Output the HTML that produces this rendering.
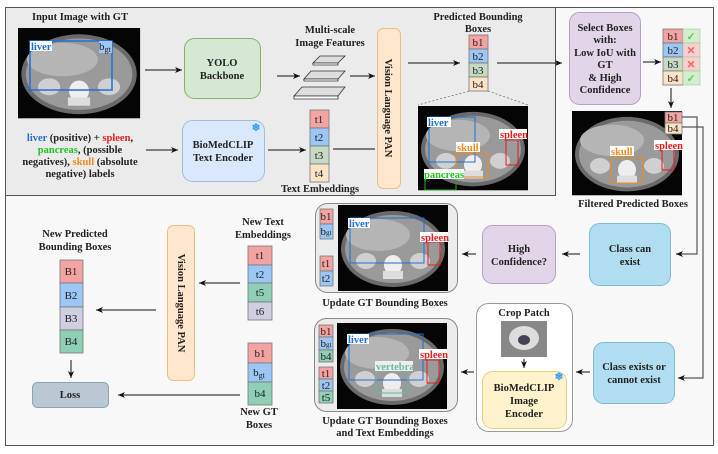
<!DOCTYPE html>
<html><head><meta charset="utf-8"><style>
html,body{margin:0;padding:0;background:#fff}
svg{display:block}
text{font-family:"Liberation Serif",serif;font-weight:bold;font-size:10.5px;fill:#222}
.n{font-weight:normal;font-size:11px}
</style></head><body>
<svg width="718" height="454" viewBox="0 0 718 454" xmlns="http://www.w3.org/2000/svg">
<defs>
<marker id="a" markerWidth="8" markerHeight="8" refX="7" refY="4" orient="auto" markerUnits="userSpaceOnUse"><path d="M0,1 L7,4 L0,7 L2,4z" fill="#111"/></marker>
<g id="ct">
<rect x="0" y="0" width="110" height="86" fill="#050505"/>
<ellipse cx="55" cy="44" rx="52" ry="38" fill="#6a6a6a"/>
<ellipse cx="55" cy="44" rx="48" ry="34" fill="#9a9a9a"/>
<ellipse cx="40" cy="30" rx="32" ry="16" fill="#b5b5b5"/>
<ellipse cx="28" cy="56" rx="10" ry="8" fill="#d0d0d0"/>
<ellipse cx="82" cy="56" rx="10" ry="8" fill="#d0d0d0"/>
<ellipse cx="55" cy="60" rx="9" ry="10" fill="#eee"/>
<rect x="45" y="66" width="20" height="8" fill="#ddd"/>
</g>
</defs>
<rect x="5.5" y="7.5" width="708" height="438" fill="#f8f8f8" stroke="#555" stroke-width="1"/>
<rect x="5.5" y="7.5" width="550" height="188" fill="#ebebeb" stroke="#555" stroke-width="1"/>

<text x="80" y="20" text-anchor="middle">Input Image with GT</text>
<use href="#ct" x="18" y="28" transform="translate(18,28) scale(1.11,1.05) translate(-18,-28)"/>
<rect x="30" y="41" width="82" height="49" fill="none" stroke="#1f6fd6" stroke-width="1.5"/>
<rect x="30" y="41" width="22" height="10" fill="#fff"/><text x="31" y="50" style="fill:#1f6fd6">liver</text>
<rect x="99" y="41" width="13" height="12" fill="#9cc6f5"/><text x="99" y="50" class="n">b<tspan font-size="8" dy="2">gt</tspan></text>
<line x1="145" y1="70" x2="182" y2="70" stroke="#111" marker-end="url(#a)"/>
<rect x="184.5" y="38.5" width="76" height="60" rx="10" fill="#d5e8d4" stroke="#82b366"/>
<text x="222" y="66" text-anchor="middle">YOLO</text><text x="222" y="79" text-anchor="middle">Backbone</text>
<line x1="277" y1="76" x2="300" y2="76" stroke="#111" marker-end="url(#a)"/>
<text x="330" y="33" text-anchor="middle">Multi-scale</text><text x="330" y="46" text-anchor="middle">Image Features</text>
<g fill="#ddd" stroke="#333" stroke-width="0.8">
<path d="M320,56 L345,56 L338,63 L313,63z"/><path d="M313,63 L338,63 L338,65 L313,65z" fill="#fff"/>
<path d="M311,71 L345,71 L338,79 L304,79z"/><path d="M304,79 L338,79 L338,81 L304,81z" fill="#fff"/>
<path d="M302,87 L345,87 L338,96 L294,96z"/><path d="M294,96 L338,96 L338,99 L294,99z" fill="#fff"/>
</g>
<line x1="350" y1="76" x2="375" y2="76" stroke="#111" marker-end="url(#a)"/>
<rect x="377.5" y="28.5" width="23" height="160" rx="6" fill="#ffe6cc" stroke="#e8c080"/>
<text transform="translate(385,108) rotate(90)" text-anchor="middle" font-size="12">Vision Language PAN</text>

<text x="80" y="141" text-anchor="middle"><tspan style="fill:#1f6fd6">liver</tspan> (positive) + <tspan style="fill:#e81c1c">spleen</tspan>,</text>
<text x="80" y="153" text-anchor="middle"><tspan style="fill:#22c422">pancreas</tspan>, (possible</text>
<text x="80" y="165" text-anchor="middle">negatives), <tspan style="fill:#f08a1c">skull</tspan> (absolute</text>
<text x="80" y="177" text-anchor="middle">negative) labels</text>
<line x1="146" y1="150" x2="178" y2="150" stroke="#111" marker-end="url(#a)"/>
<rect x="182.5" y="120.5" width="82" height="61" rx="10" fill="#dae8fc" stroke="#9fbde0"/>
<text x="223" y="148" text-anchor="middle">BioMedCLIP</text><text x="223" y="161" text-anchor="middle">Text Encoder</text>
<text x="256" y="131" text-anchor="middle" style="fill:#2a9df4" font-size="10">❄</text>
<line x1="268" y1="150" x2="306" y2="150" stroke="#111" marker-end="url(#a)"/>
<g stroke="#777" stroke-width="0.8">
<rect x="310" y="110" width="19" height="18" fill="#f4a3a3"/><rect x="310" y="128" width="19" height="18" fill="#9cc6f5"/>
<rect x="310" y="146" width="19" height="18" fill="#c7d8c4"/><rect x="310" y="164" width="19" height="18" fill="#fde3c6"/></g>
<text x="319" y="123" text-anchor="middle" class="n">t1</text><text x="319" y="141" text-anchor="middle" class="n">t2</text>
<text x="319" y="159" text-anchor="middle" class="n">t3</text><text x="319" y="177" text-anchor="middle" class="n">t4</text>
<text x="320" y="192" text-anchor="middle">Text Embeddings</text>
<line x1="333" y1="149" x2="375" y2="149" stroke="#555" stroke-width="1.5"/>

<line x1="408" y1="63" x2="460" y2="63" stroke="#111" marker-end="url(#a)"/>
<text x="478" y="20" text-anchor="middle">Predicted Bounding</text><text x="478" y="32" text-anchor="middle">Boxes</text>
<g stroke="#777" stroke-width="0.8">
<rect x="469" y="35" width="19" height="14" fill="#f4a3a3"/><rect x="469" y="49" width="19" height="14" fill="#9cc6f5"/>
<rect x="469" y="63" width="19" height="14" fill="#c7d8c4"/><rect x="469" y="77" width="19" height="14" fill="#fde3c6"/></g>
<text x="478" y="46" text-anchor="middle" class="n">b1</text><text x="478" y="60" text-anchor="middle" class="n">b2</text>
<text x="478" y="74" text-anchor="middle" class="n">b3</text><text x="478" y="88" text-anchor="middle" class="n">b4</text>
<line x1="469" y1="91" x2="418" y2="105" stroke="#666" stroke-dasharray="2,2" stroke-width="0.7"/>
<line x1="488" y1="91" x2="528" y2="105" stroke="#666" stroke-dasharray="2,2" stroke-width="0.7"/>
<use href="#ct" transform="translate(418,106) scale(1.0,0.98)"/>
<rect x="429" y="117" width="46" height="45" fill="none" stroke="#1f6fd6"/><rect x="427" y="117" width="24" height="10" fill="#fff"/><text x="428" y="126" style="fill:#1f6fd6">liver</text>
<rect x="456" y="153" width="32" height="24" fill="none" stroke="#f08a1c"/><rect x="456" y="142" width="24" height="10" fill="#fff"/><text x="457" y="151" style="fill:#f08a1c">skull</text>
<rect x="506" y="140" width="12" height="25" fill="none" stroke="#e81c1c"/><rect x="499" y="129" width="28" height="10" fill="#fff"/><text x="500" y="138" style="fill:#e81c1c">spleen</text>
<rect x="425" y="178" width="31" height="12" fill="none" stroke="#22aa22"/><rect x="424" y="169" width="40" height="10" fill="#fff"/><text x="424" y="178" style="fill:#22c422">pancreas</text>

<line x1="497" y1="63" x2="562" y2="63" stroke="#111" marker-end="url(#a)"/>
<rect x="569.5" y="12.5" width="71" height="92" rx="10" fill="#e1d5e7" stroke="#b79fc8"/>
<text x="605" y="31" text-anchor="middle">Select Boxes</text><text x="605" y="43" text-anchor="middle">with:</text>
<text x="605" y="56" text-anchor="middle">Low IoU with</text><text x="605" y="68" text-anchor="middle">GT</text>
<text x="605" y="81" text-anchor="middle">&amp; High</text><text x="605" y="93" text-anchor="middle">Confidence</text>
<line x1="643" y1="62" x2="661" y2="62" stroke="#111" marker-end="url(#a)"/>
<g stroke="#777" stroke-width="0.8">
<rect x="663" y="29" width="20" height="14" fill="#f4a3a3"/><rect x="663" y="43" width="20" height="14" fill="#9cc6f5"/>
<rect x="663" y="57" width="20" height="14" fill="#c7d8c4"/><rect x="663" y="71" width="20" height="14" fill="#fde3c6"/></g>
<g stroke="#9c9" stroke-width="0.6"><rect x="683" y="29" width="17" height="14" fill="#d5ecd0"/><rect x="683" y="43" width="17" height="14" fill="#f8d0d0"/><rect x="683" y="57" width="17" height="14" fill="#f8d0d0"/><rect x="683" y="71" width="17" height="14" fill="#d5ecd0"/></g>
<text x="673" y="40" text-anchor="middle" class="n">b1</text><text x="673" y="54" text-anchor="middle" class="n">b2</text>
<text x="673" y="68" text-anchor="middle" class="n">b3</text><text x="673" y="82" text-anchor="middle" class="n">b4</text>
<text x="691" y="40" text-anchor="middle" style="fill:#5c5" font-size="10">✓</text><text x="691" y="54" text-anchor="middle" style="fill:#e66" font-size="9">✕</text>
<text x="691" y="68" text-anchor="middle" style="fill:#e66" font-size="9">✕</text><text x="691" y="82" text-anchor="middle" style="fill:#5c5" font-size="10">✓</text>
<line x1="671" y1="88" x2="671" y2="108" stroke="#111" marker-end="url(#a)"/>
<use href="#ct" transform="translate(572,111) scale(1.0,0.98)"/>
<rect x="611" y="158" width="32" height="25" fill="none" stroke="#f08a1c"/><rect x="610" y="146" width="24" height="10" fill="#fff"/><text x="611" y="155" style="fill:#f08a1c">skull</text>
<rect x="662" y="145" width="12" height="25" fill="none" stroke="#e81c1c"/><rect x="654" y="140" width="28" height="10" fill="#fff"/><text x="655" y="149" style="fill:#e81c1c">spleen</text>
<g stroke="#777" stroke-width="0.8"><rect x="665" y="112" width="17" height="11" fill="#f4a3a3"/><rect x="665" y="123" width="17" height="11" fill="#fde3c6"/></g>
<text x="673" y="121" text-anchor="middle" class="n">b1</text><text x="673" y="132" text-anchor="middle" class="n">b4</text>
<text x="633" y="207" text-anchor="middle" font-size="10">Filtered Predicted Boxes</text>
<polyline points="682,117 697,117 697,254 676,254" fill="none" stroke="#555" stroke-width="1.2" marker-end="url(#a)"/>
<polyline points="682,127 703,127 703,378 678,378" fill="none" stroke="#555" stroke-width="1.2" marker-end="url(#a)"/>

<rect x="589.5" y="223.5" width="81" height="62" rx="10" fill="#b1ddf0" stroke="#7fb9d6"/>
<text x="630" y="252" text-anchor="middle">Class can</text><text x="630" y="265" text-anchor="middle">exist</text>
<rect x="593.5" y="342.5" width="81" height="61" rx="10" fill="#b1ddf0" stroke="#7fb9d6"/>
<text x="634" y="370" text-anchor="middle">Class exists or</text><text x="634" y="383" text-anchor="middle">cannot exist</text>
<line x1="580" y1="254" x2="562" y2="254" stroke="#111" marker-end="url(#a)"/>
<rect x="482.5" y="225.5" width="73" height="58" rx="10" fill="#e1d5e7" stroke="#b79fc8"/>
<text x="519" y="252" text-anchor="middle">High</text><text x="519" y="265" text-anchor="middle">Confidence?</text>
<line x1="476" y1="254" x2="462" y2="254" stroke="#111" marker-end="url(#a)"/>
<line x1="590" y1="372" x2="576" y2="372" stroke="#111" marker-end="url(#a)"/>
<line x1="474" y1="372" x2="461" y2="372" stroke="#111" marker-end="url(#a)"/>
<rect x="476.5" y="303.5" width="96" height="128" rx="12" fill="#fff" stroke="#999"/>
<text x="524" y="316" text-anchor="middle">Crop Patch</text>
<rect x="501" y="321" width="46" height="36" fill="#888"/><ellipse cx="524" cy="338" rx="15" ry="12" fill="#ddd"/><ellipse cx="524" cy="340" rx="6" ry="5" fill="#445"/>
<line x1="524" y1="359" x2="524" y2="368" stroke="#111" marker-end="url(#a)"/>
<rect x="482.5" y="371.5" width="84" height="57" rx="10" fill="#fff2cc" stroke="#e6cf80"/>
<text x="524" y="391" text-anchor="middle">BioMedCLIP</text><text x="524" y="404" text-anchor="middle">Image</text><text x="524" y="417" text-anchor="middle">Encoder</text>
<text x="559" y="380" text-anchor="middle" style="fill:#2a9df4" font-size="10">❄</text>

<rect x="315.5" y="203.5" width="142" height="89" rx="12" fill="#ececec" stroke="#888"/>
<use href="#ct" transform="translate(338,205) scale(1.0,1.0)"/>
<rect x="350" y="218" width="74" height="45" fill="none" stroke="#1f6fd6"/><rect x="348" y="218" width="22" height="10" fill="#fff"/><text x="349" y="227" style="fill:#1f6fd6">liver</text>
<rect x="428" y="242" width="12" height="23" fill="none" stroke="#e81c1c"/><rect x="420" y="232" width="28" height="10" fill="#fff"/><text x="421" y="241" style="fill:#e81c1c">spleen</text>
<g stroke="#777" stroke-width="0.8"><rect x="320" y="209" width="13" height="15" fill="#f4a3a3"/><rect x="320" y="224" width="13" height="15" fill="#9cc6f5"/>
<rect x="320" y="256" width="13" height="15" fill="#f4a3a3"/><rect x="320" y="271" width="13" height="15" fill="#9cc6f5"/></g>
<text x="326" y="220" text-anchor="middle" class="n" font-size="10">b1</text><text x="326" y="235" text-anchor="middle" class="n" font-size="9">b<tspan font-size="7">gt</tspan></text>
<text x="326" y="267" text-anchor="middle" class="n" font-size="10">t1</text><text x="326" y="282" text-anchor="middle" class="n" font-size="10">t2</text>
<text x="385" y="306" text-anchor="middle">Update GT Bounding Boxes</text>

<rect x="314.5" y="318.5" width="143" height="93" rx="12" fill="#ececec" stroke="#888"/>
<use href="#ct" transform="translate(337,323) scale(1.0,1.0)"/>
<rect x="349" y="334" width="74" height="46" fill="none" stroke="#1f6fd6"/><rect x="347" y="334" width="22" height="10" fill="#fff"/><text x="348" y="343" style="fill:#1f6fd6">liver</text>
<rect x="427" y="360" width="12" height="23" fill="none" stroke="#e81c1c"/><rect x="419" y="349" width="28" height="10" fill="#fff"/><text x="420" y="358" style="fill:#e81c1c">spleen</text>
<rect x="376" y="371" width="32" height="22" fill="none" stroke="#6cb8a0"/><rect x="375" y="361" width="38" height="10" fill="#eee"/><text x="376" y="370" style="fill:#6cb8a0">vertebra</text>
<g stroke="#777" stroke-width="0.8"><rect x="319" y="325" width="14" height="12" fill="#f4a3a3"/><rect x="319" y="337" width="14" height="13" fill="#9cc6f5"/><rect x="319" y="350" width="14" height="12" fill="#8ecfb5"/>
<rect x="319" y="367" width="14" height="12" fill="#f4a3a3"/><rect x="319" y="379" width="14" height="12" fill="#9cc6f5"/><rect x="319" y="391" width="14" height="12" fill="#8ecfb5"/></g>
<text x="326" y="335" text-anchor="middle" class="n" font-size="10">b1</text><text x="326" y="347" text-anchor="middle" class="n" font-size="9">b<tspan font-size="7">gt</tspan></text><text x="326" y="360" text-anchor="middle" class="n" font-size="10">b4</text>
<text x="326" y="377" text-anchor="middle" class="n" font-size="10">t1</text><text x="326" y="389" text-anchor="middle" class="n" font-size="10">t2</text><text x="326" y="401" text-anchor="middle" class="n" font-size="10">t5</text>
<text x="385" y="424" text-anchor="middle">Update GT Bounding Boxes</text><text x="385" y="436" text-anchor="middle">and Text Embeddings</text>

<text x="75" y="237" text-anchor="middle">New Predicted</text><text x="75" y="250" text-anchor="middle">Bounding Boxes</text>
<g stroke="#777" stroke-width="0.8"><rect x="60" y="260" width="23" height="23" fill="#f4a3a3"/><rect x="60" y="283" width="23" height="24" fill="#9cc6f5"/>
<rect x="60" y="307" width="23" height="23" fill="#d0cee2"/><rect x="60" y="330" width="23" height="23" fill="#8ecfb5"/></g>
<text x="71" y="275" text-anchor="middle" class="n">B1</text><text x="71" y="299" text-anchor="middle" class="n">B2</text>
<text x="71" y="322" text-anchor="middle" class="n">B3</text><text x="71" y="345" text-anchor="middle" class="n">B4</text>
<line x1="71" y1="360" x2="71" y2="378" stroke="#111" marker-end="url(#a)"/>
<rect x="32.5" y="382.5" width="76" height="25" rx="5" fill="#bac8d3" stroke="#8fa3b3"/>
<text x="70" y="398" text-anchor="middle">Loss</text>
<rect x="167.5" y="225.5" width="27" height="155" rx="6" fill="#ffe6cc" stroke="#e8c080"/>
<text transform="translate(178,303) rotate(90)" text-anchor="middle" font-size="12">Vision Language PAN</text>
<line x1="156" y1="310" x2="96" y2="310" stroke="#111" marker-end="url(#a)"/>
<line x1="240" y1="283" x2="199" y2="283" stroke="#111" marker-end="url(#a)"/>
<text x="263" y="225" text-anchor="middle">New Text</text><text x="263" y="238" text-anchor="middle">Embeddings</text>
<g stroke="#777" stroke-width="0.8"><rect x="248" y="246" width="24" height="19" fill="#f4a3a3"/><rect x="248" y="265" width="24" height="18" fill="#9cc6f5"/>
<rect x="248" y="283" width="24" height="19" fill="#8ecfb5"/><rect x="248" y="302" width="24" height="18" fill="#d0cee2"/></g>
<text x="260" y="259" text-anchor="middle" class="n">t1</text><text x="260" y="278" text-anchor="middle" class="n">t2</text>
<text x="260" y="296" text-anchor="middle" class="n">t5</text><text x="260" y="315" text-anchor="middle" class="n">t6</text>
<g stroke="#777" stroke-width="0.8"><rect x="248" y="343" width="24" height="20" fill="#f4a3a3"/><rect x="248" y="363" width="24" height="19" fill="#9cc6f5"/>
<rect x="248" y="382" width="24" height="23" fill="#8ecfb5"/></g>
<text x="260" y="357" text-anchor="middle" class="n">b1</text><text x="259" y="376" text-anchor="middle" class="n">b<tspan font-size="8" dy="2">gt</tspan></text>
<text x="260" y="397" text-anchor="middle" class="n">b4</text>
<line x1="240" y1="395" x2="118" y2="395" stroke="#111" marker-end="url(#a)"/>
<text x="259" y="415" text-anchor="middle">New GT</text><text x="259" y="428" text-anchor="middle">Boxes</text>
</svg>
</body></html>
